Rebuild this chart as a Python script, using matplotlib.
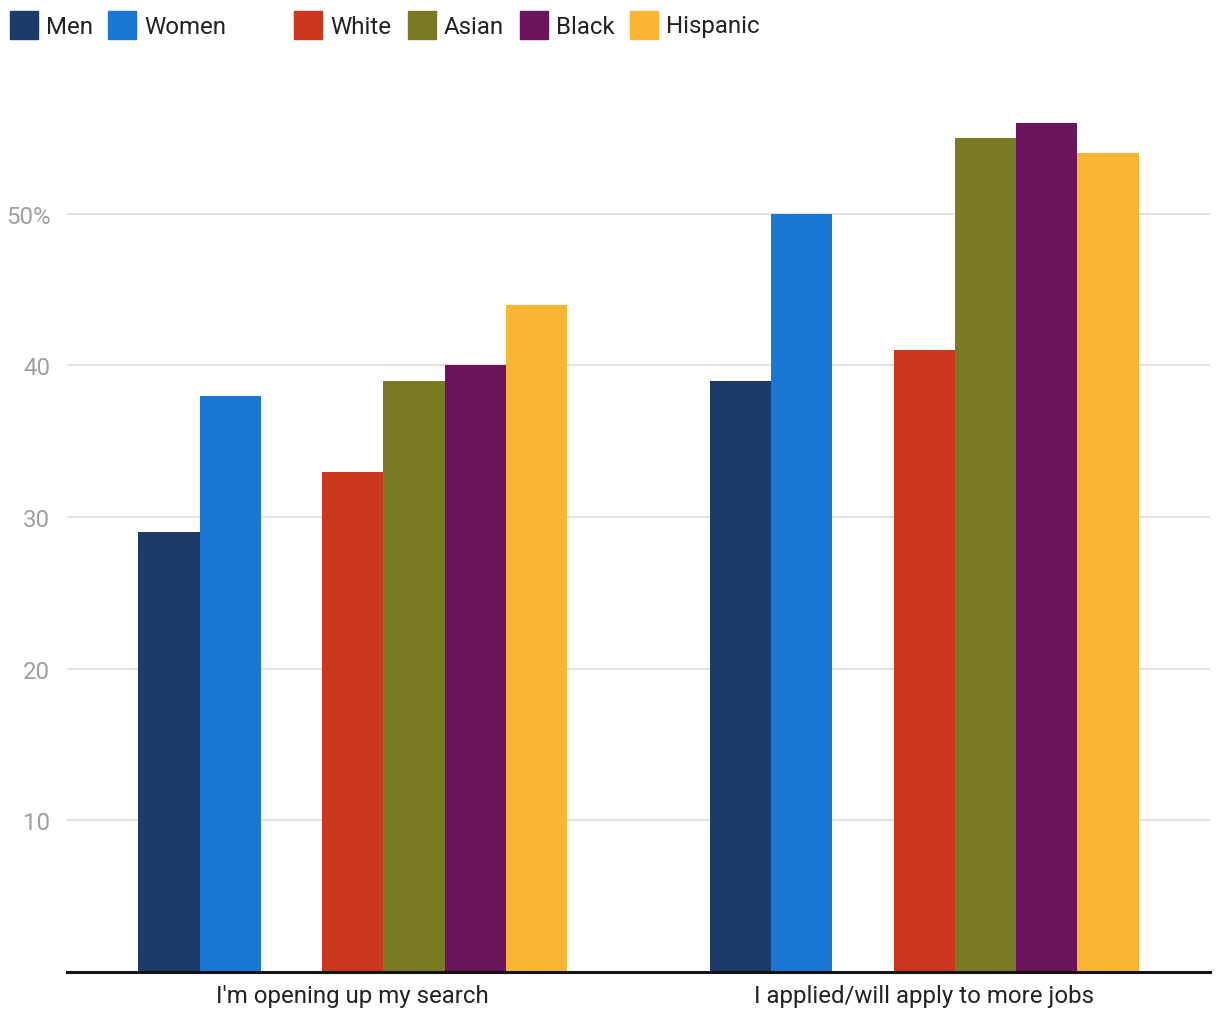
import matplotlib
matplotlib.use("Agg")
import matplotlib.pyplot as plt
from matplotlib.patches import Rectangle
import numpy as np

plt.rcParams['font.family'] = ['Roboto', 'DejaVu Sans']

categories = ["I'm opening up my search", "I applied/will apply to more jobs"]
series_names = ["Men", "Women", "White", "Asian", "Black", "Hispanic"]
men = [29, 39]
women = [38, 50]
white = [33, 41]
asian = [39, 55]
black = [40, 56]
hispanic = [44, 54]
values = [men, women, white, asian, black, hispanic]
colors = ["#1c3b68", "#1b77d4", "#cb371f", "#797a24", "#6b145d", "#fbb534"]
ytick_vals = [10, 20, 30, 40, 50]
ytick_labels = ["10", "20", "30", "40", "50%"]

W, H = 1220, 1020
fig = plt.figure(figsize=(W / 100, H / 100), dpi=100)
ax = fig.add_axes([67 / W, 47 / H, (1210 - 67) / W, (973 - 63) / H])

bw = 0.75 / 7
slots = [-3, -2, 0, 1, 2, 3]
x = np.arange(len(categories)) + 0.5
for s, vals, c, name in zip(slots, values, colors, series_names):
    ax.bar(x + s * bw, vals, width=bw, color=c, align='center', zorder=3, label=name)

ax.set_xlim(0, len(categories))
ax.set_ylim(0, 60)
ax.set_yticks(ytick_vals)
ax.set_yticklabels(ytick_labels)
ax.set_xticks(x)
ax.set_xticklabels(categories)
ax.grid(axis='y', color='#e3e3e3', linewidth=1.5, zorder=0)
for sp in ['top', 'right', 'left']:
    ax.spines[sp].set_visible(False)
ax.spines['bottom'].set_color('#141414')
ax.spines['bottom'].set_linewidth(2.2)
ax.spines['bottom'].set_zorder(4)
ax.tick_params(axis='y', length=0, pad=12, labelsize=17.3, labelcolor='#a0a0a0')
ax.tick_params(axis='x', length=0, pad=9, labelsize=17.3, labelcolor='#222222')

# legend (manual, in figure pixel coordinates)
leg_x = [10, 108, 294, 408, 520, 630]
for lx, c, name in zip(leg_x, colors, series_names):
    fig.patches.append(Rectangle((lx / W, 1 - 40 / H), 28 / W, 28 / H,
                                 transform=fig.transFigure, color=c))
    fig.text((lx + 36) / W, 1 - 27 / H, name, fontsize=17.3, color='#222222',
             va='center', ha='left')

fig.savefig("out.png", dpi=100)
